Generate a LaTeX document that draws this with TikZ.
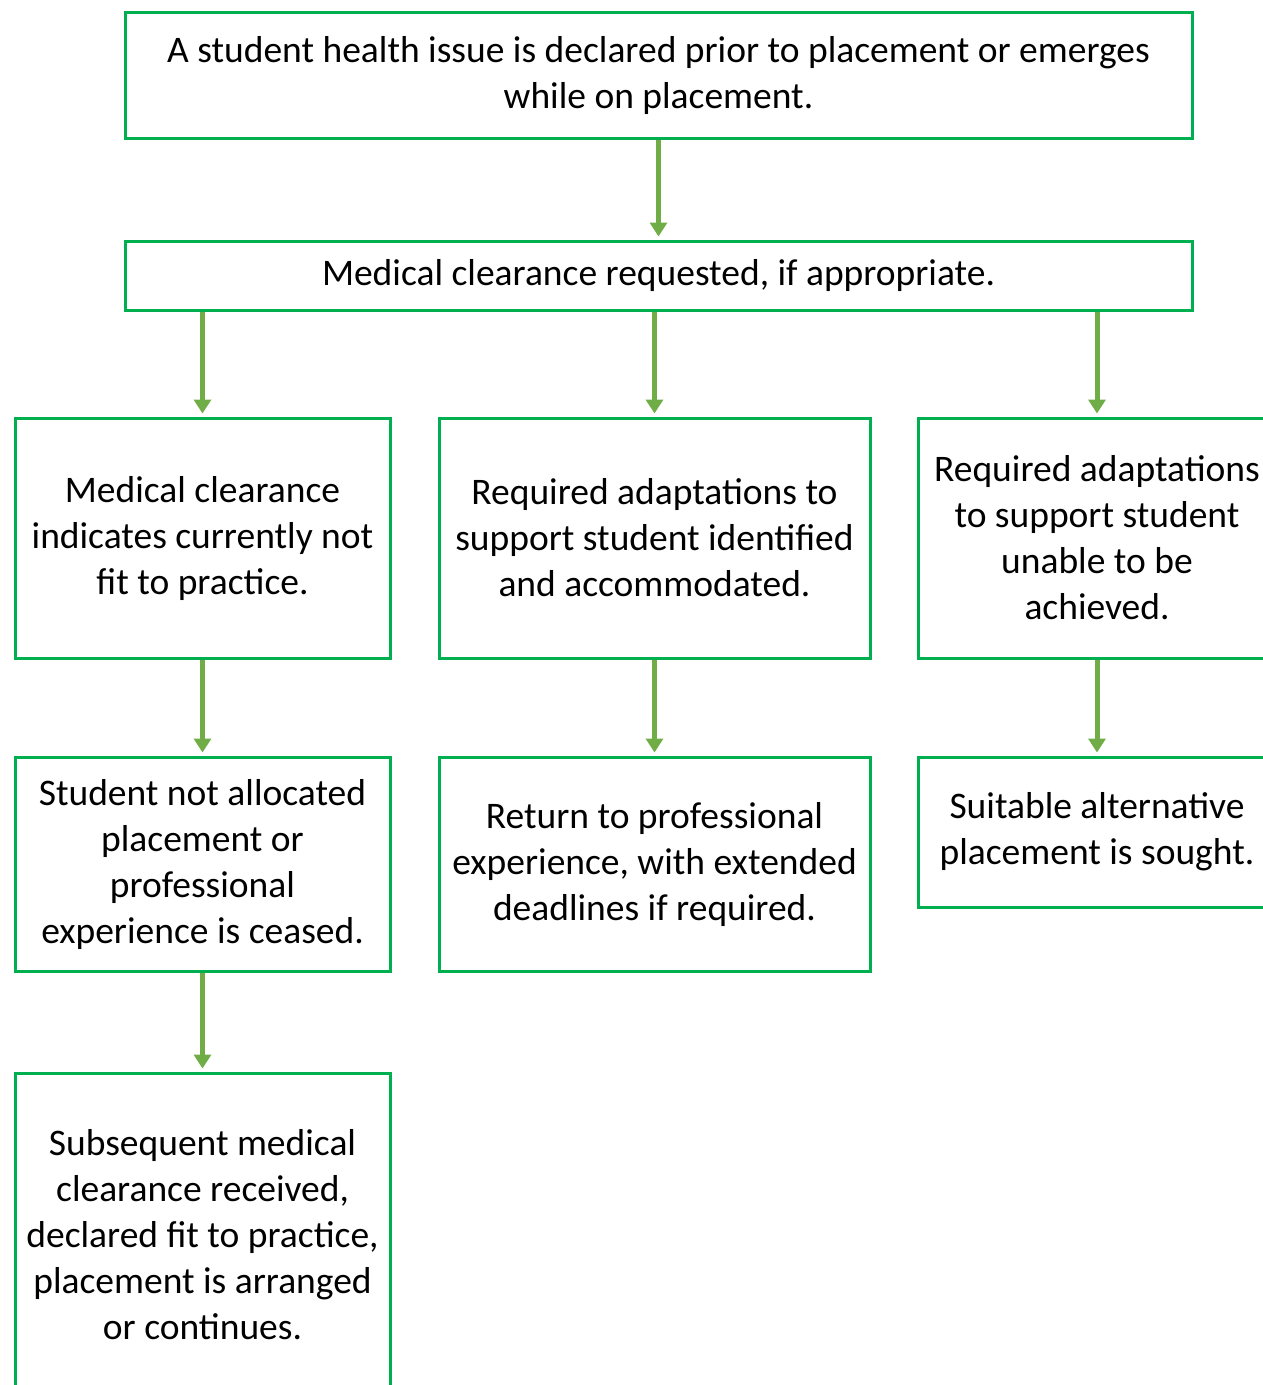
\documentclass[tikz,border=0pt]{standalone}
\usepackage{fontspec}
\setmainfont{Carlito}
\usetikzlibrary{arrows.meta}
\definecolor{boxgreen}{RGB}{0,176,80}
\definecolor{arrowgreen}{RGB}{112,173,71}

\begin{document}
\begin{tikzpicture}[x=1pt,y=-1pt,
	stepbox/.style={draw=boxgreen, line width=3pt, align=center, inner sep=0pt,
		font=\fontsize{37.5}{46}\selectfont},
	flow/.style={draw=arrowgreen, line width=5pt, shorten >=3pt,
		-{Triangle[width=17pt,length=14pt]}}]

	\useasboundingbox (0,0) rectangle (1263,1385);
	\clip (0,0) rectangle (1263,1385);

	\node[stepbox, minimum width=1067, minimum height=126] (issue) at (658.5,75)
		{A student health issue is declared prior to placement or emerges\\while on placement.};
	\node[stepbox, minimum width=1067, minimum height=69] (clear) at (658.5,275.5)
		{Medical clearance requested, if appropriate.};

	\node[stepbox, minimum width=375, minimum height=240] (unfit) at (202.5,538)
		{Medical clearance\\indicates currently not\\fit to practice.};
	\node[stepbox, minimum width=431, minimum height=240] (adapt) at (654.5,538)
		{Required adaptations to\\support student identified\\and accommodated.};
	\node[stepbox, minimum width=358, minimum height=240] (noadapt) at (1097,538)
		{Required adaptations\\to support student\\unable to be\\achieved.};

	\node[stepbox, minimum width=375, minimum height=214] (cease) at (202.5,864)
		{Student not allocated\\placement or\\professional\\experience is ceased.};
	\node[stepbox, minimum width=431, minimum height=214] (return) at (654.5,864)
		{Return to professional\\experience, with extended\\deadlines if required.};
	\node[stepbox, minimum width=358, minimum height=150] (alt) at (1097,832)
		{Suitable alternative\\placement is sought.};

	\node[stepbox, minimum width=375, minimum height=324] (later) at (202.5,1235)
		{Subsequent medical\\clearance received,\\declared fit to practice,\\placement is arranged\\or continues.};

	\draw[flow] (issue.south -| clear.north) -- (clear.north);
	\draw[flow] (clear.south -| unfit.north) -- (unfit.north);
	\draw[flow] (clear.south -| adapt.north) -- (adapt.north);
	\draw[flow] (clear.south -| noadapt.north) -- (noadapt.north);
	\draw[flow] (unfit) -- (cease);
	\draw[flow] (adapt) -- (return);
	\draw[flow] (noadapt) -- (alt);
	\draw[flow] (cease) -- (later);

\end{tikzpicture}
\end{document}
